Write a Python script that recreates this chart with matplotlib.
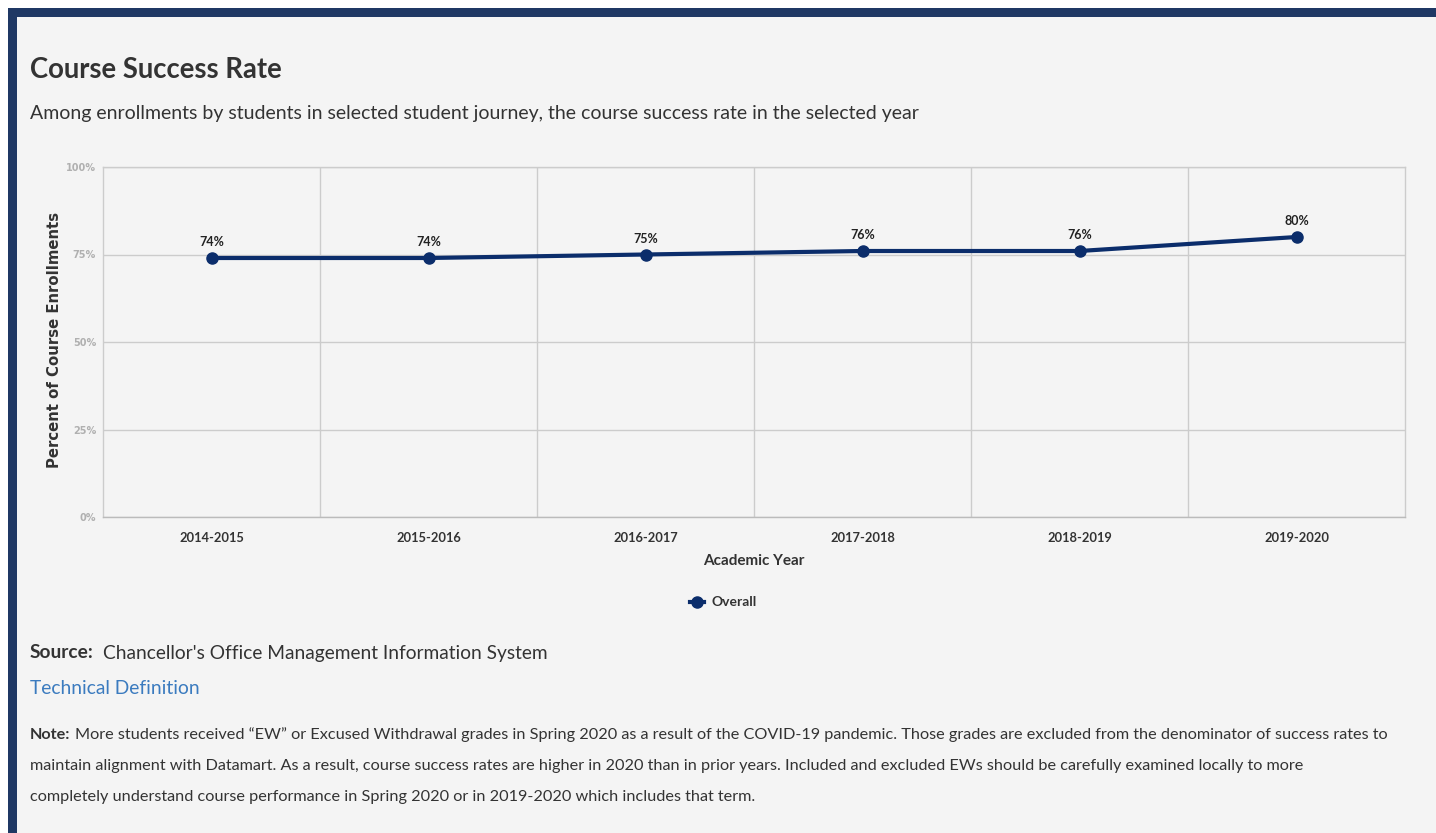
import matplotlib
matplotlib.use("Agg")
from matplotlib import pyplot as plt
from matplotlib.patches import Rectangle
from matplotlib.lines import Line2D

# data
years = ['2014-2015', '2015-2016', '2016-2017', '2017-2018', '2018-2019', '2019-2020']
overall = [74, 74, 75, 76, 76, 80]
y_ticks = [0, 25, 50, 75, 100]

W, H = 1436, 833
NAVY = '#1f3864'
LINE = '#0b2d6b'
BG = '#f4f4f4'
TXT = '#333333'
WIDE = ['DejaVu Sans']

plt.rcParams['font.family'] = ['Lato', 'DejaVu Sans']


def fx(px):
    return px / W


def fy(py):
    # pixel row from top -> figure fraction
    return 1 - py / H


fig = plt.figure(figsize=(W / 100, H / 100), dpi=100)
fig.patch.set_facecolor(BG)

# white margin and navy frame
fig.patches.append(Rectangle((0, fy(8)), 1, 1 - fy(8), transform=fig.transFigure,
                             facecolor='white', edgecolor='none', zorder=-10))
fig.patches.append(Rectangle((0, 0), fx(8), 1, transform=fig.transFigure,
                             facecolor='white', edgecolor='none', zorder=-10))
fig.patches.append(Rectangle((fx(8), fy(17)), 1 - fx(8), fy(8) - fy(17), transform=fig.transFigure,
                             facecolor=NAVY, edgecolor='none', zorder=-9))
fig.patches.append(Rectangle((fx(8), 0), fx(9), fy(8), transform=fig.transFigure,
                             facecolor=NAVY, edgecolor='none', zorder=-9))

# headings
fig.text(fx(30), fy(70), 'Course Success Rate', fontsize=19.8, fontweight='bold',
         color=TXT, va='center', ha='left')
fig.text(fx(30), fy(113), 'Among enrollments by students in selected student journey, '
         'the course success rate in the selected year', fontsize=14,
         color=TXT, va='center', ha='left')

# chart
ax = fig.add_axes([fx(103), fy(517), fx(1405) - fx(103), fy(167) - fy(517)])
ax.set_facecolor(BG)
x = list(range(len(years)))
ax.plot(x, overall, color=LINE, linewidth=3, marker='o', markersize=8,
        solid_capstyle='round', zorder=3, clip_on=False)
for xi, v in zip(x, overall):
    ax.annotate(f'{v}%', (xi, v), xytext=(0, 7), textcoords='offset points',
                ha='center', va='bottom', fontsize=9, fontweight='bold', color='#222222')

ax.set_xlim(-0.5, len(years) - 0.5)
ax.set_ylim(0, 100)
ax.set_yticks(y_ticks)
ax.set_yticklabels([f'{t}%' for t in y_ticks], fontsize=7, color='#b0b0b0',
                   fontweight='bold', family=WIDE)
ax.set_xticks(x)
ax.set_xticklabels(years, fontsize=9.3, fontweight='bold', color=TXT)
ax.set_xticks([i + 0.5 for i in x[:-1]], minor=True)
ax.tick_params(axis='both', which='both', length=0)
ax.tick_params(axis='x', pad=11)
ax.tick_params(axis='y', pad=5)
ax.grid(axis='y', which='major', color='#cccccc', linewidth=1)
ax.grid(axis='x', which='minor', color='#cccccc', linewidth=1)
ax.set_axisbelow(True)
for s in ax.spines.values():
    s.set_color('#cccccc')
    s.set_linewidth(1)
ax.spines['bottom'].set_color('#bbbbbb')

fig.text(fx(55), fy(340), 'Percent of Course Enrollments', rotation=90, fontsize=10.7,
         fontweight='bold', color=TXT, ha='center', va='center', family=WIDE)
fig.text(fx(754), fy(561), 'Academic Year', fontsize=11, fontweight='bold',
         color=TXT, ha='center', va='center')

# legend
fig.lines.append(Line2D([fx(690), fx(697), fx(704)], [fy(602)] * 3, transform=fig.transFigure,
                        color=LINE, linewidth=3, marker='o', markersize=8, markevery=[1]))
fig.text(fx(711), fy(602), 'Overall', fontsize=10, fontweight='bold', color=TXT,
         ha='left', va='center')

# footer
fig.text(fx(30), fy(653), 'Source:', fontsize=13.8, fontweight='bold', color=TXT,
         ha='left', va='center')
fig.text(fx(103), fy(653), "Chancellor's Office Management Information System", fontsize=13.8,
         color=TXT, ha='left', va='center')
fig.text(fx(30), fy(689), 'Technical Definition', fontsize=13.9, color='#3b7bbf',
         ha='left', va='center')
note_lines = [
    'More students received \u201cEW\u201d or Excused Withdrawal grades in Spring 2020 as a result '
    'of the COVID-19 pandemic. Those grades are excluded from the denominator of success rates to',
    'maintain alignment with Datamart. As a result, course success rates are higher in 2020 than in '
    'prior years. Included and excluded EWs should be carefully examined locally to more',
    'completely understand course performance in Spring 2020 or in 2019-2020 which includes that term.',
]
fig.text(fx(30), fy(735), 'Note:', fontsize=11.7, fontweight='bold', color=TXT,
         ha='left', va='center')
fig.text(fx(75), fy(735), note_lines[0], fontsize=11.7, color=TXT, ha='left', va='center')
fig.text(fx(30), fy(766), note_lines[1], fontsize=11.7, color=TXT, ha='left', va='center')
fig.text(fx(30), fy(797), note_lines[2], fontsize=11.7, color=TXT, ha='left', va='center')

fig.savefig('out.png', dpi=100, facecolor=fig.get_facecolor())
